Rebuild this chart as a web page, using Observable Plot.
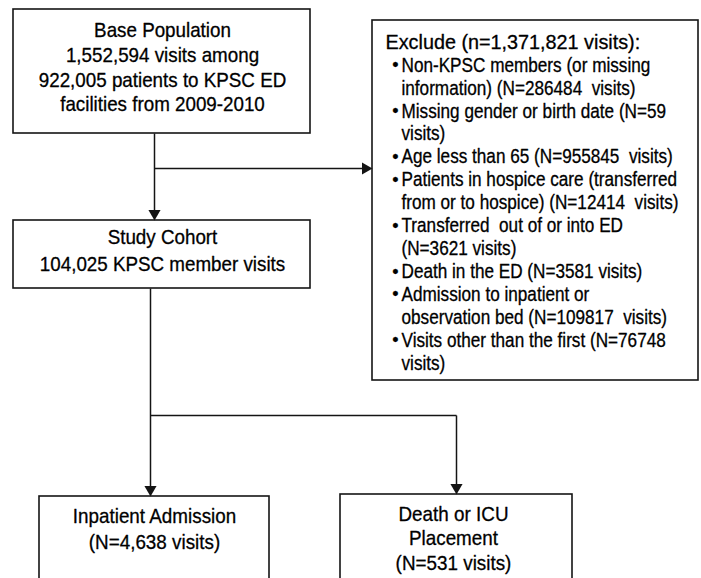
<!DOCTYPE html>
<html>
<head>
<meta charset="utf-8">
<script src="https://cdn.jsdelivr.net/npm/d3@7"></script>
<script src="https://cdn.jsdelivr.net/npm/@observablehq/plot@0.6"></script>
<style>
  html, body { margin: 0; padding: 0; background: #fff; }
  svg text { white-space: pre; }
</style>
</head>
<body>
<div id="chart"></div>
<script>
// ---- Content (text of the flow chart) ----
const baseLines = ["Base Population", "1,552,594 visits among", "922,005 patients to KPSC ED", "facilities from 2009-2010"];
const cohortLines = ["Study Cohort", "104,025 KPSC member visits"];
const excludeHeader = ["Exclude (n=1,371,821 visits):"];
const excludeItems = [
  ["Non-KPSC members (or missing", "information) (N=286484  visits)"],
  ["Missing gender or birth date (N=59", "visits)"],
  ["Age less than 65 (N=955845  visits)"],
  ["Patients in hospice care (transferred", "from or to hospice) (N=12414  visits)"],
  ["Transferred  out of or into ED", "(N=3621 visits)"],
  ["Death in the ED (N=3581 visits)"],
  ["Admission to inpatient or", "observation bed (N=109817  visits)"],
  ["Visits other than the first (N=76748", "visits)"]
];
const inpatientLines = ["Inpatient Admission", "(N=4,638 visits)"];
const deathLines = ["Death or ICU", "Placement", "(N=531 visits)"];

// ---- Layout of the diagram (in figure pixel units) ----
const W = 701, H = 578;
const boxes = [
  {id: "base",      x1: 13,  x2: 310, y1: 9,   y2: 133},
  {id: "cohort",    x1: 13,  x2: 310, y1: 220, y2: 288},
  {id: "exclude",   x1: 372, x2: 698, y1: 20,  y2: 380},
  {id: "inpatient", x1: 39,  x2: 269, y1: 496, y2: 640},
  {id: "death",     x1: 340, x2: 572, y1: 494, y2: 640}
];
const connectors = [
  {x1: 154, y1: 133, x2: 154, y2: 214},
  {x1: 154, y1: 168, x2: 366, y2: 168},
  {x1: 150, y1: 288, x2: 150, y2: 490},
  {x1: 150, y1: 415, x2: 456, y2: 415},
  {x1: 456, y1: 415, x2: 456, y2: 488}
];
// arrow tips and direction (degrees clockwise from "up")
const tips = [
  {x: 154, y: 220, rot: 180},
  {x: 372, y: 168, rot: 90},
  {x: 150, y: 496, rot: 180},
  {x: 456, y: 494, rot: 180}
];
const headR = 4.5;
const tipOff = 2 * headR * Math.sqrt(Math.PI / (3 * Math.sqrt(3)));
const heads = tips.map(t => {
  const a = t.rot * Math.PI / 180;
  return {x: t.x - tipOff * Math.sin(a), y: t.y + tipOff * Math.cos(a), rot: t.rot};
});

function block(lines, x, y0, step) {
  return lines.map((t, i) => ({text: t, x, y: y0 + i * step}));
}
const topRows = [
  ...block(baseLines, 162, 30.5, 24.6),
  ...block(cohortLines, 162, 237.5, 27)
];
const bottomRows = [
  ...block(inpatientLines, 154, 516, 25.5),
  ...block(deathLines, 453, 513.5, 24.5)
];

// Exclusion list rows
const exStep = 22.93, exY0 = 42;
const itemRows = [], bulletRows = [];
let li = 1;
excludeItems.forEach(item => {
  bulletRows.push({text: "\u2022", x: 395, y: exY0 + li * exStep});
  item.forEach(t => { itemRows.push({text: t, x: 401, y: exY0 + li * exStep}); li++; });
});
const headerRows = block(excludeHeader, 385, exY0, exStep);

const font = "'Liberation Sans', Arial, Helvetica, sans-serif";
const ink = "#141414";
const txt = "#000";
const textStyle = {textAnchor: "middle", lineAnchor: "middle", fill: txt, stroke: txt, strokeWidth: 0.3};

const chart = Plot.plot({
  width: W,
  height: H,
  margin: 0,
  x: {domain: [0, W], range: [0, W], axis: null},
  y: {domain: [0, H], range: [0, H], axis: null},
  style: {fontFamily: font, background: "#fff", color: ink},
  marks: [
    Plot.link(connectors, {x1: "x1", y1: "y1", x2: "x2", y2: "y2", stroke: ink, strokeWidth: 1.5}),
    Plot.rect(boxes, {x1: "x1", x2: "x2", y1: "y1", y2: "y2", fill: "#fff", stroke: ink, strokeWidth: 1.6, clip: true}),
    Plot.dot(heads, {x: "x", y: "y", rotate: "rot", symbol: "triangle", r: headR, fill: ink, stroke: "none"}),
    Plot.text(topRows, {...textStyle, x: "x", y: "y", text: "text", fontSize: 20, ariaDescription: "top-text"}),
    Plot.text(bottomRows, {...textStyle, x: "x", y: "y", text: "text", fontSize: 20.5, ariaDescription: "bottom-text"}),
    Plot.text(headerRows, {...textStyle, x: "x", y: "y", text: "text", textAnchor: "start", fontSize: 20, ariaDescription: "header-text"}),
    Plot.text(bulletRows, {...textStyle, x: "x", y: "y", text: "text", fontSize: 18, ariaDescription: "bullets"}),
    Plot.text(itemRows, {...textStyle, x: "x", y: "y", text: "text", textAnchor: "start", fontSize: 19.5, ariaDescription: "exclude-items"})
  ]
});

// The original figure's lettering is slightly condensed horizontally:
// scale each label horizontally about its own anchor point.
const squeeze = {"top-text": 0.94, "bottom-text": 0.92, "header-text": 0.99, "exclude-items": 0.88};
Object.entries(squeeze).forEach(([label, sx]) => {
  d3.select(chart).selectAll(`g[aria-description="${label}"] text`).each(function () {
    const t = this.getAttribute("transform");
    if (t && /translate/.test(t)) {
      this.setAttribute("transform", `${t} scale(${sx},1)`);
    } else {
      const x = +(this.getAttribute("x") || 0), y = +(this.getAttribute("y") || 0);
      this.setAttribute("transform", `translate(${x},${y}) scale(${sx},1) translate(${-x},${-y})`);
    }
  });
});

document.getElementById("chart").appendChild(chart);
</script>
</body>
</html>
